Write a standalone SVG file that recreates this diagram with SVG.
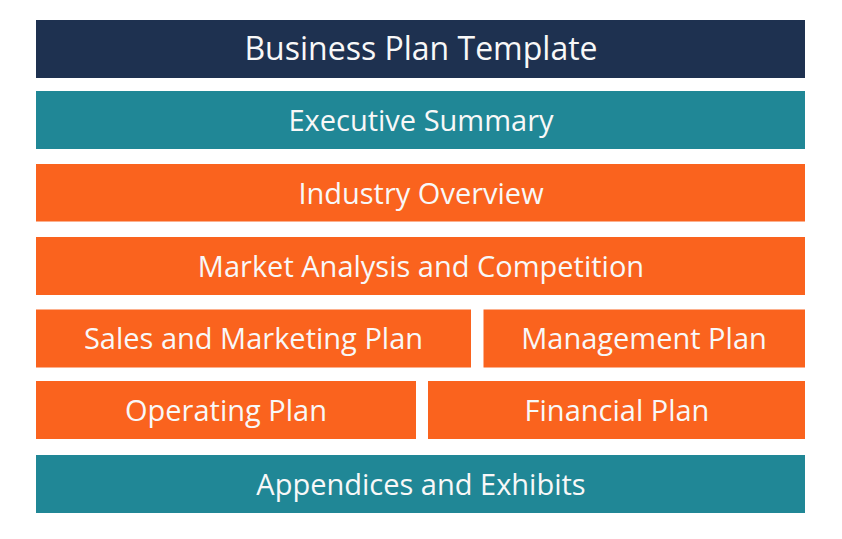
<svg xmlns="http://www.w3.org/2000/svg" width="842" height="539" viewBox="0 0 842 539">
<style>
.navy{fill:#1e3150}
.teal{fill:#208796}
.orange{fill:#fa631e}
text{font-family:"Open Sans","Noto Sans",sans-serif;font-size:29px;fill:#f8f8f8;text-anchor:middle}
.big{font-size:32px}
</style>
<rect width="842" height="539" fill="#ffffff"/>
<g id="title"><rect class="navy" x="36" y="20" width="769" height="58"/><text class="big" x="421" y="60">Business Plan Template</text></g>
<g id="executive-summary"><rect class="teal" x="36" y="91" width="769" height="58"/><text x="421" y="130.5">Executive Summary</text></g>
<g id="industry-overview"><rect class="orange" x="36" y="164" width="769" height="57.5"/><text x="421" y="203.5">Industry Overview</text></g>
<g id="market-analysis"><rect class="orange" x="36" y="237" width="769" height="58"/><text x="421" y="276.5">Market Analysis and Competition</text></g>
<g id="sales-marketing"><rect class="orange" x="36" y="309.5" width="435" height="58"/><text x="253.5" y="349">Sales and Marketing Plan</text></g>
<g id="management"><rect class="orange" x="483.5" y="309.5" width="321.5" height="58"/><text x="644" y="349">Management Plan</text></g>
<g id="operating"><rect class="orange" x="36" y="381" width="380" height="58"/><text x="226" y="420.5">Operating Plan</text></g>
<g id="financial"><rect class="orange" x="428" y="381" width="377" height="58"/><text x="617" y="420.5">Financial Plan</text></g>
<g id="appendices"><rect class="teal" x="36" y="455" width="769" height="58"/><text x="421" y="494.5">Appendices and Exhibits</text></g>
<g id="connectors"></g>
</svg>
